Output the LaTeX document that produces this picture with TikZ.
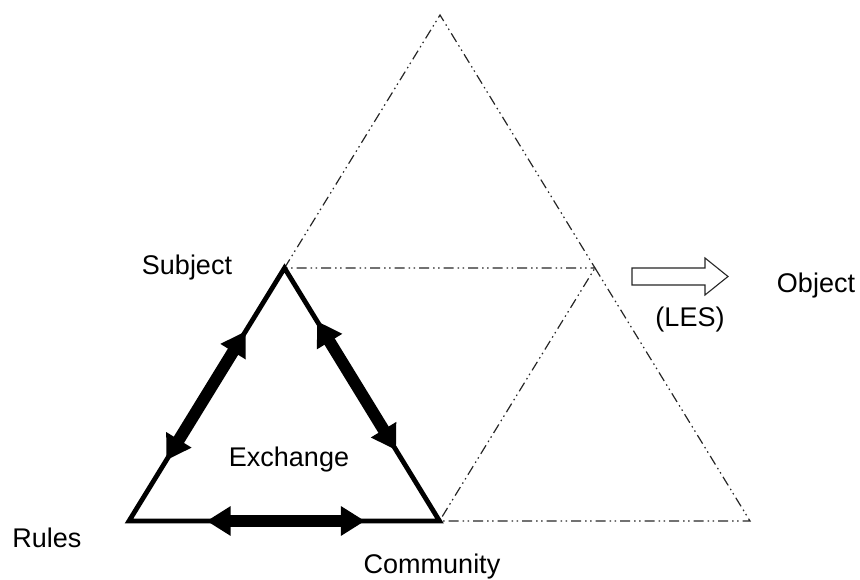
\documentclass[tikz,border=0pt]{standalone}
\usepackage{fontspec}
\setmainfont{Liberation Sans}
\usetikzlibrary{arrows.meta,calc}
\begin{document}
\begin{tikzpicture}[x=1pt,y=1pt,
  lbl/.style={font=\fontsize{27}{32}\selectfont, anchor=base, inner sep=0pt},
  solidside/.style={line width=4.8pt, line join=miter},
  ddot/.style={line width=1.2pt, draw=black!85, dash pattern=on 10pt off 4pt on 1.5pt off 3.5pt on 1.5pt off 4pt},
  fat/.style={line width=12pt, {Triangle[length=24pt,width=28pt]}-{Triangle[length=24pt,width=28pt]}},
  hollow/.style={draw=black!85, line width=1.1pt, fill=white, line join=miter}
]
\useasboundingbox (0,0) rectangle (860,580);
\coordinate (A) at (129,59);
\coordinate (T) at (440,565);
\coordinate (R) at (750,59);
\coordinate (S) at ($(A)!0.5!(T)$);
\coordinate (M) at ($(T)!0.5!(R)$);
\coordinate (C) at ($(A)!0.5!(R)$);
% dash-dot outer triangles
\draw[ddot] (S) -- (T) -- (M) -- cycle;
\draw[ddot] (M) -- (R) -- (C) -- cycle;
% solid inner triangle
\draw[solidside] (S) -- (A) -- (C) -- cycle;
% double arrows
\draw[fat] ($(S)!0.25!(A)$) -- ($(S)!0.76!(A)$);
\draw[fat] ($(S)!0.21!(C)$) -- ($(S)!0.72!(C)$);
\draw[fat] ($(A)!0.25!(C)$) -- ($(A)!0.76!(C)$);
% hollow arrow
\draw[hollow] (632,295) -- (705,295) -- (705,285) -- (728,303.5) -- (705,322) -- (705,312) -- (632,312) -- cycle;
% labels
\node[lbl] (subj) at (187,305) {Subject};
\node[lbl] (rules) at (47,32) {Rules};
\node[lbl] (comm) at (432,6) {Community};
\node[lbl] (exch) at (289,113) {Exchange};
\node[lbl] (obj) at (816,287) {Object};
\node[lbl] (les) at (690,253) {(LES)};
\end{tikzpicture}
\end{document}
